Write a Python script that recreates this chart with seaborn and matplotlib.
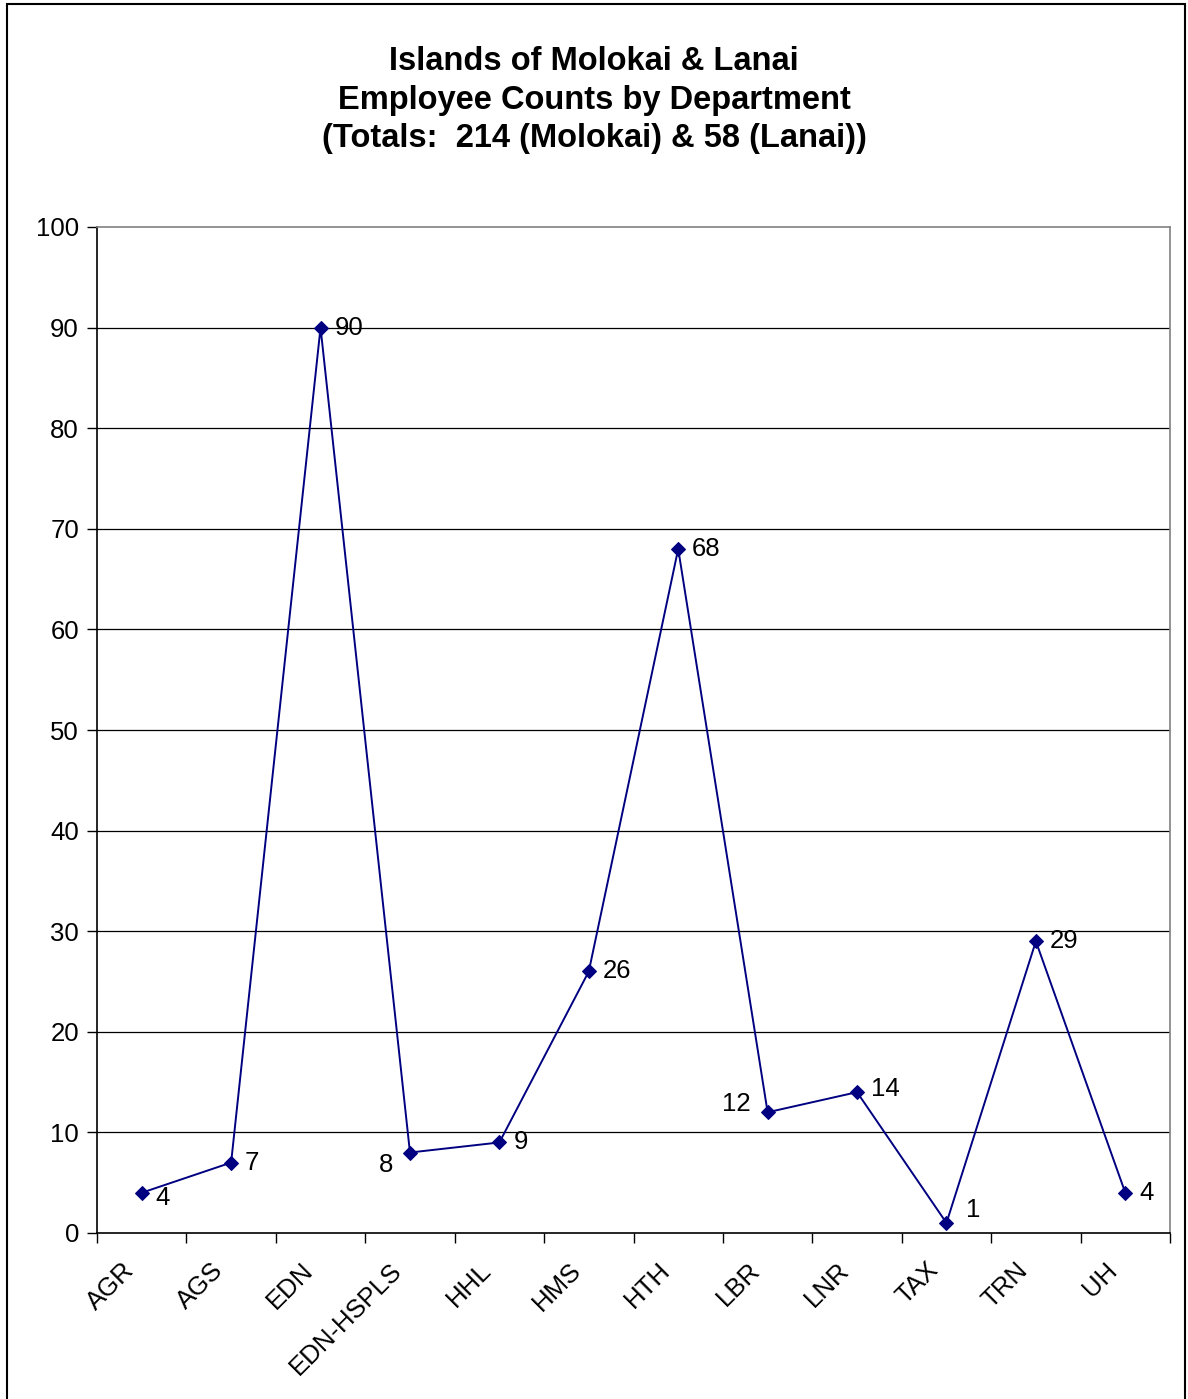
import matplotlib
matplotlib.use("Agg")
import matplotlib.pyplot as plt
import matplotlib.transforms as mtransforms
import seaborn as sns
import pandas as pd
from matplotlib.patches import Rectangle
from matplotlib.ticker import FixedLocator

departments = ["AGR", "AGS", "EDN", "EDN-HSPLS", "HHL", "HMS", "HTH", "LBR", "LNR", "TAX", "TRN", "UH"]
counts = [4, 7, 90, 8, 9, 26, 68, 12, 14, 1, 29, 4]
y_ticks = [0, 10, 20, 30, 40, 50, 60, 70, 80, 90, 100]
title = "Islands of Molokai & Lanai\nEmployee Counts by Department\n(Totals:  214 (Molokai) & 58 (Lanai))"

# label offsets in points (style only)
label_offsets = [(10, -4), (10, 0), (10, 0), (-12, -9), (10, 0), (10, 0), (10, 0), (-12, 6), (10, 2), (14, 9), (10, 0), (10, 0)]
label_ha = ["left", "left", "left", "right", "left", "left", "left", "right", "left", "left", "left", "left"]

sns.set_theme(style="white")
plt.rcParams["font.family"] = ["Liberation Sans", "DejaVu Sans"]
plt.rcParams["text.color"] = "black"
plt.rcParams["xtick.color"] = "black"
plt.rcParams["ytick.color"] = "black"
plt.rcParams["xtick.labelcolor"] = "black"
plt.rcParams["ytick.labelcolor"] = "black"

df = pd.DataFrame({"dept": departments, "count": counts})
df["pos"] = range(len(departments))

fig = plt.figure(figsize=(11.88, 13.99), dpi=100)
ax = fig.add_axes([97 / 1188, 1 - 1233 / 1399, (1170 - 97) / 1188, (1233 - 227) / 1399])

fig.patches.append(Rectangle((7 / 1188, -0.01), (1185 - 7) / 1188, 1.01 - 4 / 1399,
                             transform=fig.transFigure, fill=False, edgecolor="black", linewidth=1.5, zorder=0))

for yv in y_ticks[1:-1]:
    ax.axhline(yv, color="black", linewidth=0.9, zorder=1)

sns.lineplot(data=df, x="pos", y="count", ax=ax, color="#000080", linewidth=1.4,
             marker="D", markersize=7, markeredgecolor="#000080", zorder=3)

for i, (v, off, ha) in enumerate(zip(counts, label_offsets, label_ha)):
    ax.annotate(str(v), (i, v), xytext=off, textcoords="offset points",
                ha=ha, va="center", fontsize=18.5, color="black")

ax.set_xlim(-0.5, len(departments) - 0.5)
ax.set_ylim(0, 100)
ax.set_yticks(y_ticks)
ax.set_yticklabels([str(t) for t in y_ticks], fontsize=18.5)
ax.set_xticks(range(len(departments)))
ax.set_xticklabels(departments, rotation=45, ha="right", rotation_mode="anchor", fontsize=18.5)
ax.xaxis.set_minor_locator(FixedLocator([i - 0.5 for i in range(len(departments) + 1)]))
ax.tick_params(axis="x", which="major", length=0, pad=18)
ax.tick_params(axis="x", which="minor", length=7, width=1, color="black", direction="out", bottom=True)
ax.tick_params(axis="y", which="major", length=7, width=1, color="black", direction="out", left=True, pad=6)
ax.set_xlabel("")
ax.set_ylabel("")

shift = mtransforms.ScaledTranslation(-20 / 100, 0, fig.dpi_scale_trans)
for lbl in ax.get_xticklabels():
    lbl.set_transform(lbl.get_transform() + shift)

for side in ["left", "bottom"]:
    ax.spines[side].set_color("black")
    ax.spines[side].set_linewidth(1.2)
for side in ["top", "right"]:
    ax.spines[side].set_color("#808080")
    ax.spines[side].set_linewidth(1.2)

fig.text(0.5, 1 - 100 / 1399, title, ha="center", va="center", fontsize=23.5, fontweight="bold",
         linespacing=1.3, color="black")

fig.savefig("out.png", dpi=100, facecolor="white")
